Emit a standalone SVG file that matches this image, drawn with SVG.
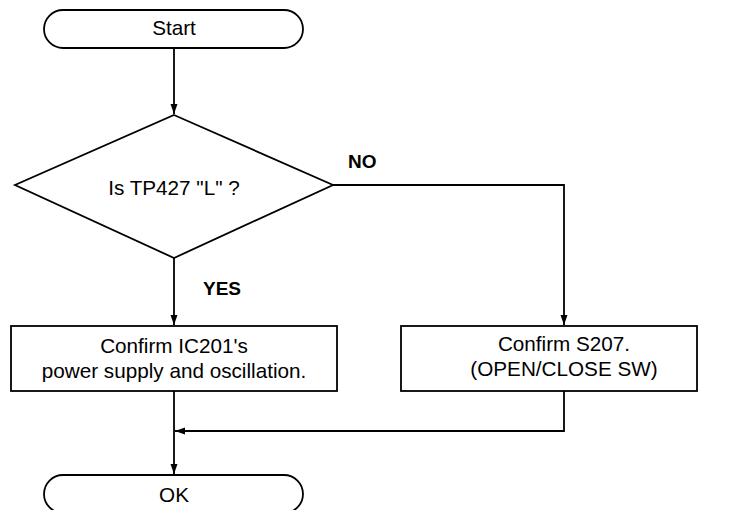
<svg xmlns="http://www.w3.org/2000/svg" width="731" height="510" viewBox="0 0 731 510">
<style>
.s{fill:#fff;stroke:#000;stroke-width:1.8}
.t{font-family:"Liberation Sans",Arial,sans-serif;font-size:20.7px;fill:#000;text-anchor:middle}
.b{font-family:"Liberation Sans",Arial,sans-serif;font-size:19px;font-weight:bold;fill:#000}
.c{fill:none;stroke:#000;stroke-width:1.8}
</style>
<defs>
<marker id="a" viewBox="0 0 10 10" refX="10" refY="5" markerWidth="10" markerHeight="10" markerUnits="userSpaceOnUse" orient="auto">
<path d="M0,1.5 L10,5 L0,8.5 Z" fill="#000"/>
</marker>
</defs>
<rect width="731" height="510" fill="#fff"/>
<g id="connectors">
<line class="c" x1="174" y1="48" x2="174" y2="114" marker-end="url(#a)"/>
<polyline class="c" points="333,185 564,185 564,325" marker-end="url(#a)"/>
<line class="c" x1="174" y1="258" x2="174" y2="325" marker-end="url(#a)"/>
<line class="c" x1="174" y1="391" x2="174" y2="474" marker-end="url(#a)"/>
<polyline class="c" points="564,391 564,431 175,431" marker-end="url(#a)"/>
</g>
<g id="start">
<rect class="s" x="44" y="10" width="259" height="38" rx="19" ry="19"/>
<text class="t" x="174" y="35">Start</text>
</g>
<g id="decision">
<polygon class="s" points="174,115 333,185 174,258 15,185"/>
<text class="t" x="174" y="195">Is TP427 "L" ?</text>
</g>
<text class="b" x="348" y="168">NO</text>
<text class="b" x="203" y="295">YES</text>
<g id="box-left">
<rect class="s" x="11" y="326" width="326" height="65"/>
<text class="t" x="174" y="353">Confirm IC201's</text>
<text class="t" x="174" y="378">power supply and oscillation.</text>
</g>
<g id="box-right">
<rect class="s" x="401" y="326" width="296" height="65"/>
<text class="t" x="564" y="351">Confirm S207.</text>
<text class="t" x="564" y="376">(OPEN/CLOSE SW)</text>
</g>
<g id="ok">
<rect class="s" x="44" y="475" width="259" height="38" rx="19" ry="19"/>
<text class="t" x="174" y="502">OK</text>
</g>
</svg>
